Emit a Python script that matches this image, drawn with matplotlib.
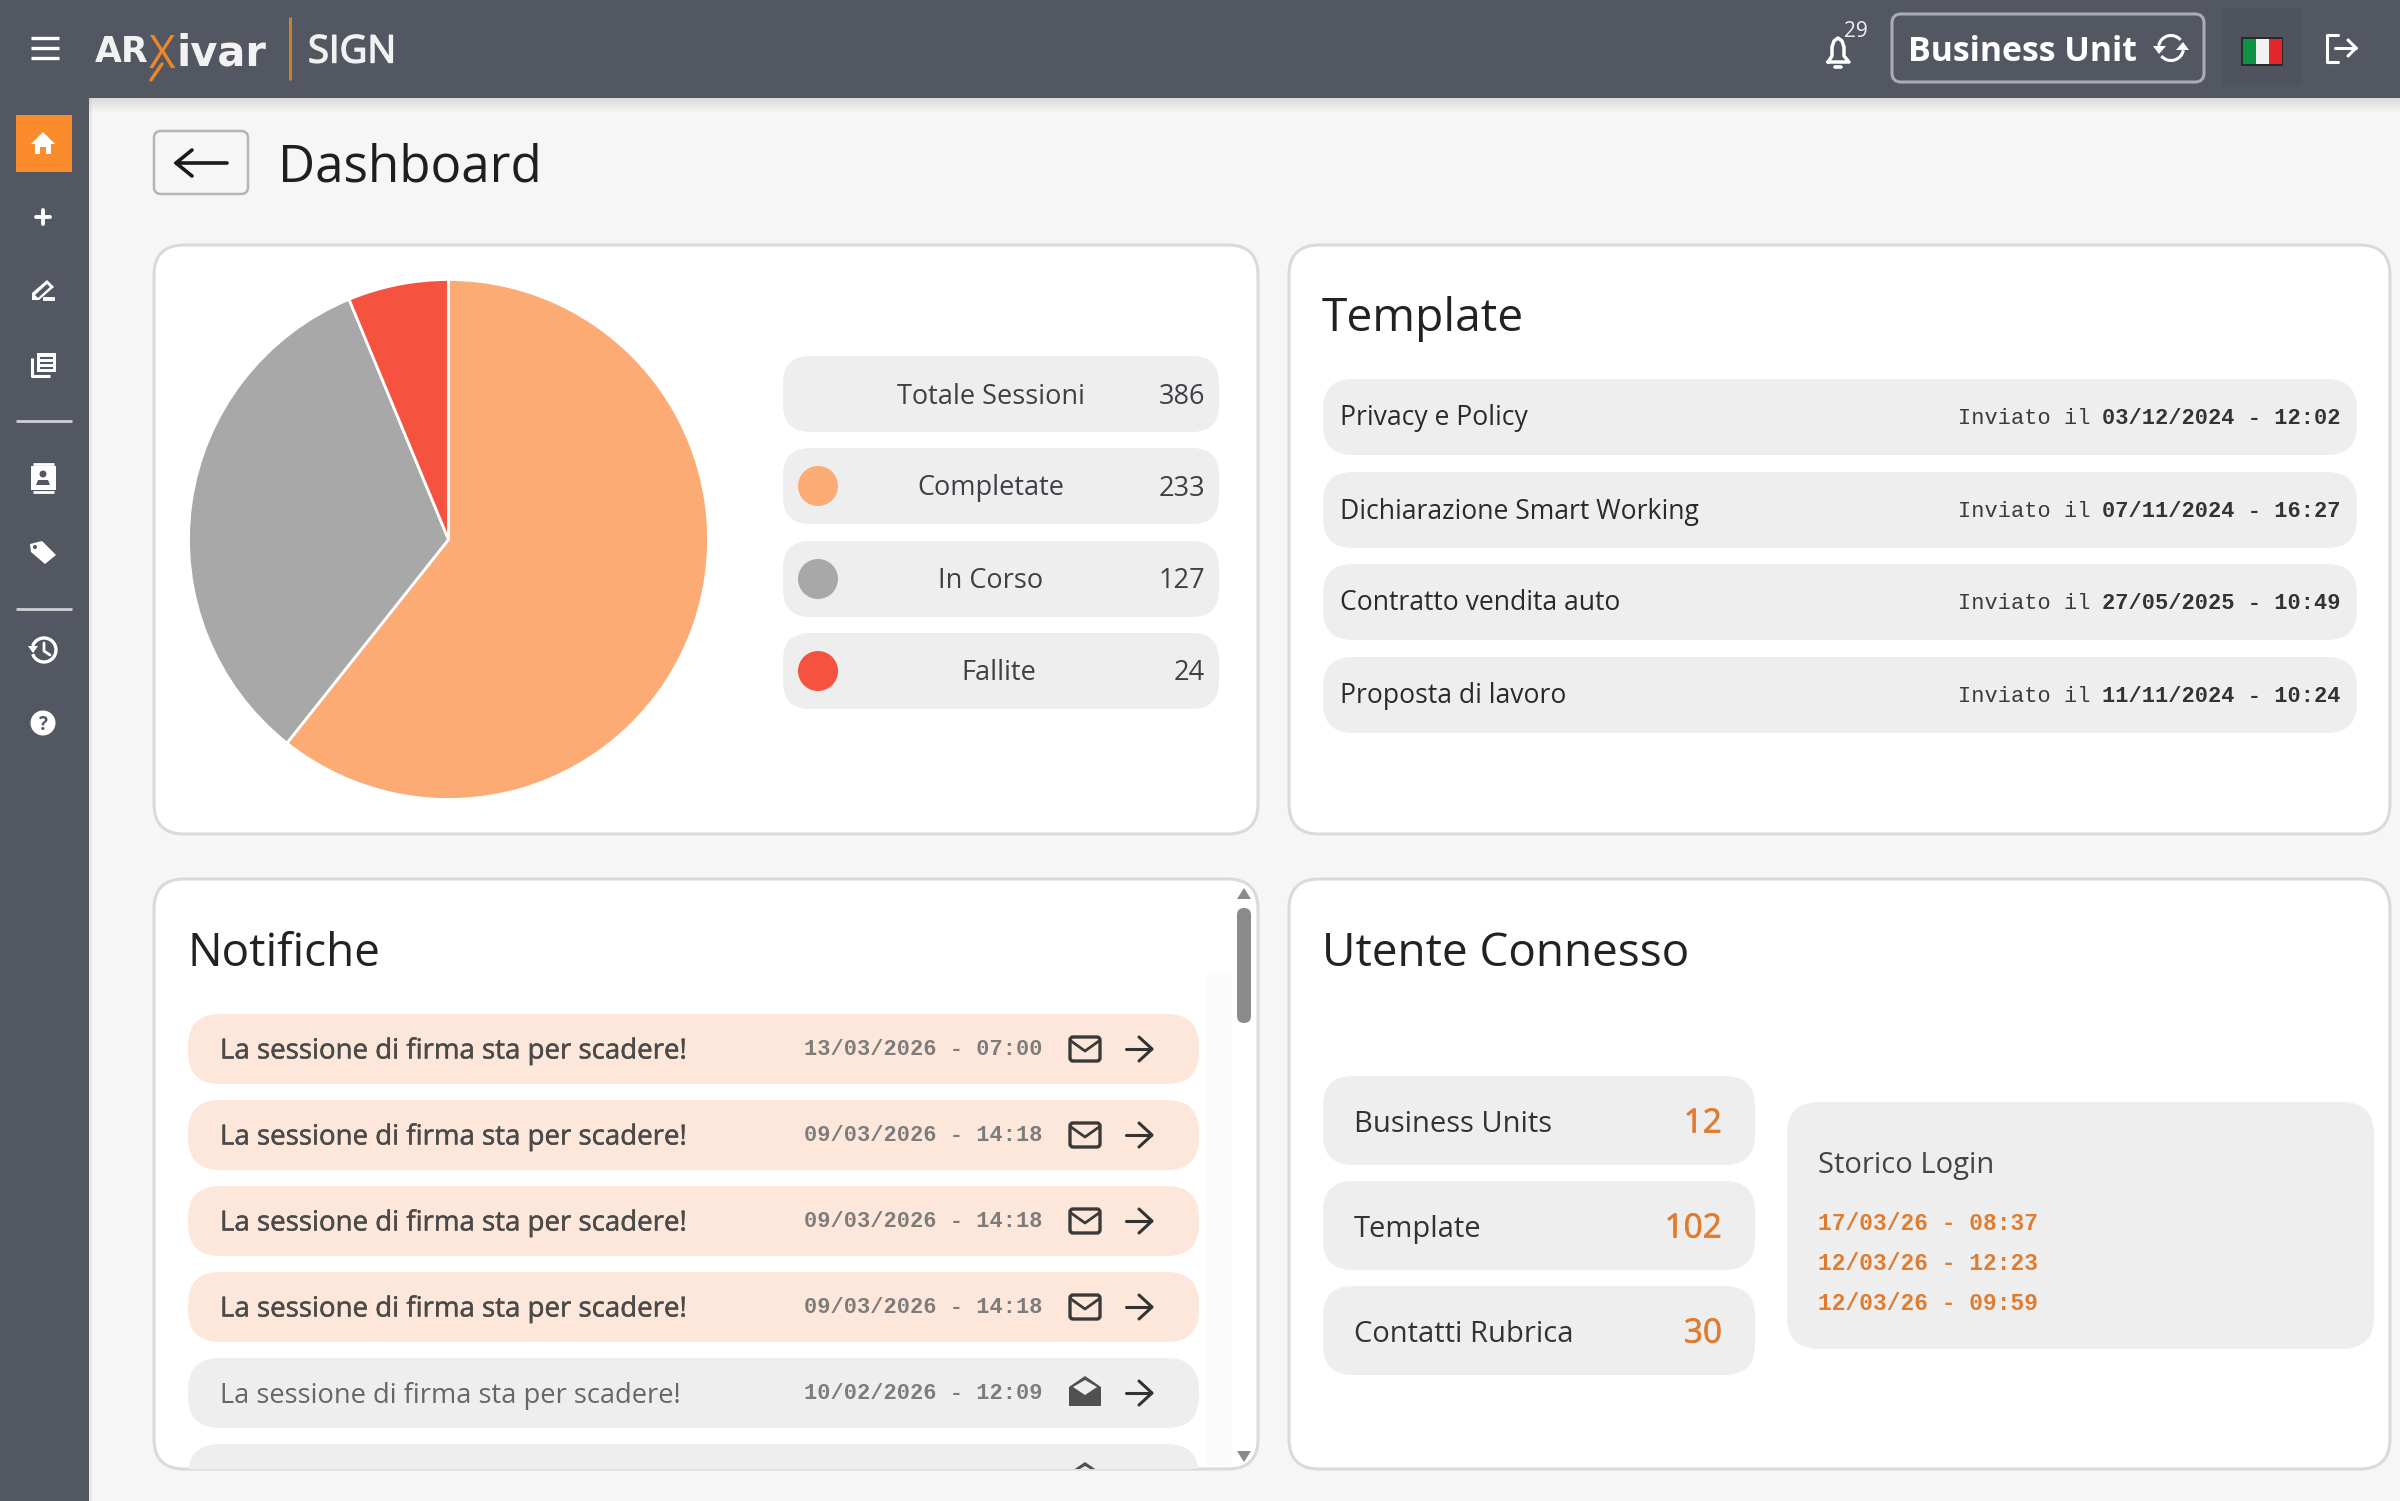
import matplotlib
matplotlib.use('Agg')
import matplotlib.pyplot as plt
import matplotlib.patheffects as pe
from matplotlib.patches import FancyBboxPatch, Rectangle, Circle, Polygon, Arc

W, H = 2400, 1501

# pie + legend
status_labels = ['Completate', 'In Corso', 'Fallite']
status_values = [233, 127, 24]
status_colors = ['#FCAB74', '#A8A8A8', '#F55240']
total_label = 'Totale Sessioni'
total_value = 386

# template card
template_names = ['Privacy e Policy', 'Dichiarazione Smart Working',
                  'Contratto vendita auto', 'Proposta di lavoro']
template_dates = ['03/12/2024 - 12:02', '07/11/2024 - 16:27',
                  '27/05/2025 - 10:49', '11/11/2024 - 10:24']

# notifications
notif_text = 'La sessione di firma sta per scadere!'
notif_dates = ['13/03/2026 - 07:00', '09/03/2026 - 14:18', '09/03/2026 - 14:18',
               '09/03/2026 - 14:18', '10/02/2026 - 12:09']
notif_unread = [True, True, True, True, False]

# connected user
user_labels = ['Business Units', 'Template', 'Contatti Rubrica']
user_values = [12, 102, 30]
login_dates = ['17/03/26 - 08:37', '12/03/26 - 12:23', '12/03/26 - 09:59']

HEADER = '#535762'
PILL = '#EEEEEE'
PINK = '#FDE7DA'
ORANGE = '#DF7C30'
DARK = '#2B2B2B'
SANS = 'Open Sans'
MONO = 'Liberation Mono'

fig = plt.figure(figsize=(W / 100, H / 100), dpi=100, facecolor='#F6F6F6')
ax = fig.add_axes([0, 0, 1, 1])
ax.set_xlim(0, W)
ax.set_ylim(H, 0)
ax.axis('off')


def txt(x, y, s, size, color=DARK, ha='left', weight='normal', family=SANS, z=6, thick=0):
    t = ax.text(x, y, s, fontsize=size, color=color, ha=ha, va='center_baseline',
                fontweight=weight, family=family, zorder=z)
    if thick:
        # open sans only comes as regular/bold here, fake the medium weight
        t.set_path_effects([pe.withStroke(linewidth=thick, foreground=color)])
    return t


def box(x0, y0, x1, y1, r, fc, ec='none', lw=0, z=2):
    p = FancyBboxPatch((x0, y0), x1 - x0, y1 - y0, boxstyle=f'round,pad=0,rounding_size={r}',
                       fc=fc, ec=ec, lw=lw, zorder=z)
    ax.add_patch(p)
    return p


def line(xs, ys, color='white', lw=2.0, z=7, cap='round'):
    return ax.plot(xs, ys, color=color, lw=lw, zorder=z, solid_capstyle=cap,
                   solid_joinstyle='round')[0]


def poly(pts, color='white', z=7):
    p = Polygon(pts, closed=True, fc=color, ec='none', zorder=z)
    ax.add_patch(p)
    return p


def mail_icon(cx, cy):
    ax.add_patch(FancyBboxPatch((cx - 15, cy - 12), 30, 24, boxstyle='round,pad=0,rounding_size=3',
                                fc='none', ec='#3A3A3A', lw=2.4, zorder=7))
    line([cx - 14, cx, cx + 14], [cy - 8, cy + 2, cy - 8], '#3A3A3A', 2.0)


def open_mail_icon(cx, cy, clip=None):
    parts = [poly([(cx - 16, cy - 6), (cx, cy - 17), (cx + 16, cy - 6), (cx + 16, cy + 13),
                   (cx - 16, cy + 13)], '#505050'),
             poly([(cx - 12, cy - 6), (cx, cy - 13), (cx + 12, cy - 6), (cx, cy + 2)], '#EEEEEE')]
    if clip is not None:
        for part in parts:
            part.set_clip_path(clip)


def arrow_icon(cx, cy, color='#333333'):
    line([cx - 13, cx + 12], [cy, cy], color, 2.2)
    line([cx, cx + 13, cx], [cy - 12, cy, cy + 12], color, 2.2)


# page frame
ax.add_patch(Rectangle((0, 0), W, 98, fc=HEADER, ec='none', zorder=4))
ax.add_patch(Rectangle((0, 98), 89, H - 98, fc=HEADER, ec='none', zorder=4))
for i in range(7):
    ax.add_patch(Rectangle((89, 98 + i * 2), W - 89, 2, fc='#000000', alpha=0.10 - i * 0.014,
                           ec='none', zorder=3))
ax.add_patch(Rectangle((89, 98), 3, H - 98, fc='#000000', alpha=0.05, ec='none', zorder=3))

# top bar, left
for y in [38, 48, 58]:
    line([31, 59], [y, y], 'white', 2.4, cap='butt')
txt(95, 48, 'AR', 25, '#F2F2F2', weight='bold', family='DejaVu Sans')
txt(149, 51, 'X', 33, '#E8872B')
line([162, 151], [64, 80], '#E8872B', 2.4)
txt(177, 49, 'ivar', 30, '#F2F2F2', weight='bold', family='DejaVu Sans')
line([289.5, 289.5], [17, 80], '#C9822F', 2.2, cap='butt')
txt(308, 48, 'SIGN', 27.5, '#F2F2F2', thick=1.0)

# top bar, right
bell = [(1828, 62), (1832, 56), (1832, 47), (1834, 41), (1838, 38), (1842, 41), (1844, 47),
        (1844, 56), (1849, 62), (1828, 62)]
line([p[0] for p in bell], [p[1] for p in bell], 'white', 2.5)
line([1835, 1841], [67, 67], 'white', 2.6)
txt(1856, 29, '29', 15, '#EFEFEF', ha='center')
box(1892, 14, 2204, 82, 9, 'none', '#ABADB3', 2.2, z=5)
txt(1908, 48, 'Business Unit', 24.4, 'white', weight='bold')
ax.add_patch(Arc((2171, 48), 25, 25, theta1=190, theta2=320, ec='white', lw=2.2, zorder=7))
ax.add_patch(Arc((2171, 48), 25, 25, theta1=10, theta2=140, ec='white', lw=2.2, zorder=7))
poly([(2153, 46), (2166, 46), (2159, 54)])
poly([(2176, 50), (2189, 50), (2183, 42)])
box(2221, 8, 2302, 87, 6, '#4F535D', z=5)
ax.add_patch(Rectangle((2241, 37), 42, 29, fc='#2A2A2A', ec='none', zorder=6))
for x0, c in zip([2243, 2256, 2269], ['#0E9248', '#F2F2F2', '#E3262C']):
    ax.add_patch(Rectangle((x0, 39), 13, 25, fc=c, ec='none', zorder=7))
line([2338, 2327, 2327, 2338], [35, 35, 62, 62], 'white', 2.2)
line([2335, 2356], [48, 48], 'white', 2.2)
line([2348, 2356, 2348], [40, 48, 56], 'white', 2.2)

# sidebar
ax.add_patch(Rectangle((16, 115), 56, 57, fc='#FA8C2D', ec='none', zorder=5))
poly([(31, 144), (43, 132), (55, 144), (51, 144), (51, 154), (46, 154), (46, 147), (40, 147),
      (40, 154), (35, 154), (35, 144)])
line([43, 43], [210, 224], 'white', 2.8)
line([36, 50], [217, 217], 'white', 2.8)
poly([(32, 293), (47, 280), (54, 287), (39, 300), (32, 300)])
poly([(35, 295), (47, 284), (50, 287), (38, 298)], HEADER)
line([43, 55], [299, 299], 'white', 2.8, cap='butt')
ax.add_patch(Rectangle((37, 353), 19, 19, fc='white', ec='none', zorder=7))
line([32, 32, 50], [358, 376, 376], 'white', 2.2, cap='butt')
for y in [358, 363, 368]:
    line([40, 53], [y, y], HEADER, 1.5, z=8, cap='butt')
for y in [421, 609]:
    line([16, 72], [y, y], '#D0D0D0', 2.0, cap='butt')
ax.add_patch(Rectangle((31, 466), 25, 24, fc='white', ec='none', zorder=7))
line([33, 54], [464, 464], 'white', 2.0, cap='butt')
line([33, 54], [492, 492], 'white', 2.0, cap='butt')
ax.add_patch(Circle((43, 474), 3.5, fc=HEADER, ec='none', zorder=8))
poly([(36, 485), (38, 480), (48, 480), (50, 485)], HEADER, z=8)
poly([(30, 544), (42, 541), (56, 555), (45, 564), (31, 552)])
ax.add_patch(Circle((35, 547), 2, fc=HEADER, ec='none', zorder=8))
ax.add_patch(Arc((44, 650), 24, 24, theta1=-160, theta2=160, ec='white', lw=2.4, zorder=7))
poly([(28, 646), (38, 646), (33, 653)])
line([44, 44, 50], [643, 651, 655], 'white', 2.0)
ax.add_patch(Circle((43, 723), 12.5, fc='white', ec='none', zorder=7))
txt(43, 723, '?', 13.5, HEADER, ha='center', weight='bold', z=8)

# back button + title
box(154, 131, 248, 194, 7, '#F6F6F6', '#B5B5B5', 1.8)
line([176, 227], [163, 163], '#1A1A1A', 2.6)
line([192, 176, 192], [150, 163, 176], '#1A1A1A', 2.6)
txt(278, 162, 'Dashboard', 36.8, '#1F1F1F')

# cards
for x0, x1, y0, y1 in [(154, 1258, 245, 834), (1289, 2390, 245, 834),
                       (154, 1258, 879, 1469), (1289, 2390, 879, 1469)]:
    card = box(x0, y0, x1, y1, 30, 'white', '#DADADA', 2.2, z=1)
    if x0 == 154 and y0 == 879:
        notif_card = card

# pie
pie_ax = fig.add_axes([(448.5 - 260) / W, 1 - (539.5 + 260) / H, 520 / W, 520 / H])
pie_ax.pie(status_values, colors=status_colors, startangle=90, counterclock=False, radius=1,
           wedgeprops={'edgecolor': 'white', 'linewidth': 2})
pie_ax.set_xlim(-1, 1)
pie_ax.set_ylim(-1, 1)

# status legend
label_centers = [991, 991, 999]
legend_tops = [356, 448, 541, 633]
box(783, legend_tops[0], 1219, legend_tops[0] + 76, 27, PILL)
txt(991, legend_tops[0] + 37, total_label, 19.5, '#3F3F46', ha='center')
txt(1205, legend_tops[0] + 37, str(total_value), 19.5, '#3F3F46', ha='right')
for top, lab, val, col, cx in zip(legend_tops[1:], status_labels, status_values, status_colors,
                                  label_centers):
    box(783, top, 1219, top + 76, 27, PILL)
    ax.add_patch(Circle((818, top + 38), 20, fc=col, ec='none', zorder=5))
    txt(cx, top + 37, lab, 19.5, '#3F3F46', ha='center')
    txt(1205, top + 37, str(val), 19.5, '#3F3F46', ha='right')

# template card
txt(1322, 314, 'Template', 33.2, '#222222')
for top, name, date in zip([379, 472, 564, 657], template_names, template_dates):
    box(1323, top, 2357, top + 76, 30, PILL)
    txt(1340, top + 36, name, 19.1, '#2A2A2A')
    txt(1958, top + 37, 'Inviato il', 15.8, '#3A3A3A', family=MONO)
    txt(2340, top + 37, date, 15.8, '#333333', ha='right', family=MONO, weight='bold')

# notifications
txt(188, 948, 'Notifiche', 33, '#222222')
ax.add_patch(Rectangle((1207, 975), 25, 490, fc='#FBFBFB', ec='none', zorder=1.5))
for top, date, unread in zip([1014, 1100, 1186, 1272, 1358], notif_dates, notif_unread):
    box(188, top, 1199, top + 70, 32, PINK if unread else PILL)
    cy = top + 35
    if unread:
        txt(220, cy - 1, notif_text, 19.9, '#4A4A4A', thick=0.35)
        mail_icon(1085, cy)
    else:
        txt(220, cy, notif_text, 19.6, '#666666')
        open_mail_icon(1085, cy)
    txt(804, cy - 2, date, 15.8, '#7C7C7C', family=MONO, weight='bold')
    arrow_icon(1139, cy)
last_row = box(188, 1444, 1199, 1514, 32, PILL)
last_row.set_clip_path(notif_card)
open_mail_icon(1085, 1479, clip=notif_card)
box(1237, 908, 1251, 1023, 7, '#8A8A8A', z=5)
poly([(1237, 899), (1251, 899), (1244, 888)], '#8A8A8A')
poly([(1237, 1451), (1251, 1451), (1244, 1462)], '#8A8A8A')

# connected user
txt(1322, 948, 'Utente Connesso', 33, '#222222')
for top, lab, val in zip([1076, 1181, 1286], user_labels, user_values):
    box(1323, top, 1755, top + 89, 30, PILL)
    txt(1354, top + 45, lab, 21, '#333333')
    txt(1722, top + 44, str(val), 24, ORANGE, ha='right', thick=0.5)
box(1787, 1102, 2374, 1349, 32, PILL)
txt(1818, 1162, 'Storico Login', 21, '#444444')
for y, date in zip([1221, 1261, 1301], login_dates):
    txt(1818, y, date, 16.5, ORANGE, family=MONO, weight='bold')

fig.savefig('out.png', dpi=100, facecolor=fig.get_facecolor())
